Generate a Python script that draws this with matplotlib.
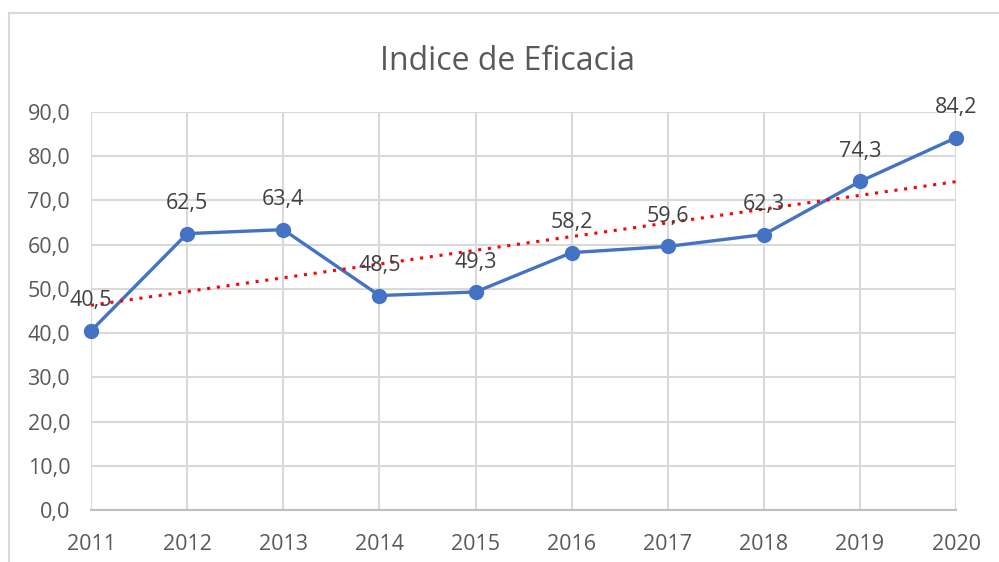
import numpy as np
from matplotlib import pyplot as plt
from matplotlib.patches import Rectangle

years = [2011, 2012, 2013, 2014, 2015, 2016, 2017, 2018, 2019, 2020]
eficacia = [40.5, 62.5, 63.4, 48.5, 49.3, 58.2, 59.6, 62.3, 74.3, 84.2]
yticks = [0, 10, 20, 30, 40, 50, 60, 70, 80, 90]

plt.rcParams['font.family'] = ['Open Sans', 'DejaVu Sans']

fig = plt.figure(figsize=(9.99, 5.62), dpi=100)
ax = fig.add_axes([0.0911, 0.0925, 0.866, 0.7082])

# chart border (Excel-like frame)
fig.patches.append(Rectangle((0.009, -0.1), 1.2, 1.077, transform=fig.transFigure,
                             fill=False, edgecolor='#d9d9d9', linewidth=1.5))

x = np.arange(len(years))
ax.plot(x, eficacia, color='#4472C4', linewidth=2.4, marker='o', markersize=10,
        zorder=3, clip_on=False)

# linear trend line
coef = np.polyfit(x, eficacia, 1)
ax.plot(x, np.polyval(coef, x), color='#FF0000', linestyle=(0, (1, 2.2)),
        linewidth=2.2, zorder=4, clip_on=False)

for xi, v in zip(x, eficacia):
    ax.annotate(f'{v:.1f}'.replace('.', ','), (xi, v), xytext=(0, 14),
                textcoords='offset points', ha='center', va='bottom',
                fontsize=15.5, color='#404040', zorder=5)

ax.set_xlim(0, len(years) - 1)
ax.set_ylim(0, 90)
ax.set_xticks(x)
ax.set_xticklabels([str(y) for y in years])
ax.set_yticks(yticks)
ax.set_yticklabels([f'{t:.1f}'.replace('.', ',') for t in yticks])
ax.tick_params(length=0, labelsize=15.5, labelcolor='#595959')
ax.tick_params(axis='x', pad=17)
ax.tick_params(axis='y', pad=15)

ax.grid(True, color='#d9d9d9', linewidth=1.5)
ax.set_axisbelow(True)
for side in ['top', 'right', 'left']:
    ax.spines[side].set_visible(False)
ax.spines['bottom'].set_color('#bfbfbf')
ax.spines['bottom'].set_linewidth(1.5)

fig.text(0.508, 0.891, 'Indice de Eficacia', ha='center', va='center',
         fontsize=23, color='#595959')

fig.savefig('out.png', dpi=100)
